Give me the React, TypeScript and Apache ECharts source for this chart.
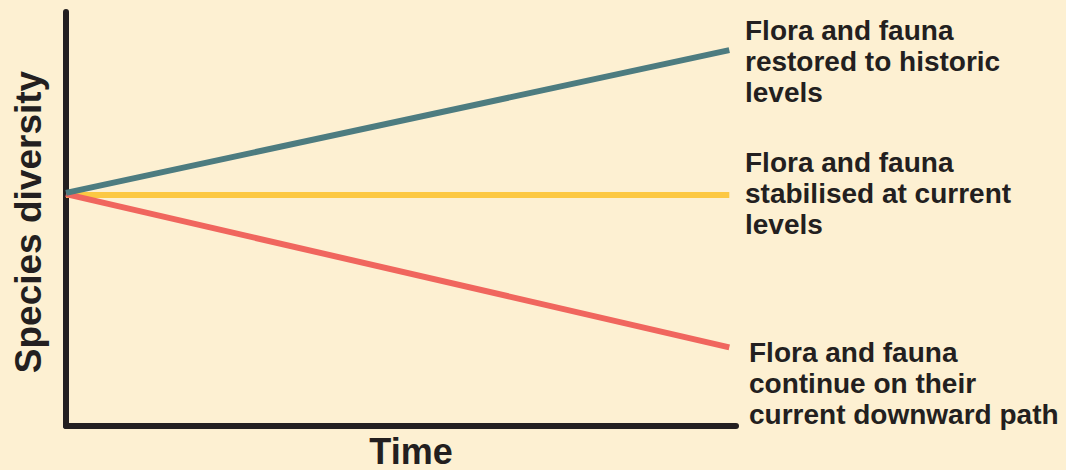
import React, { useEffect, useRef } from "react";
import * as echarts from "echarts";

const timePoints = [0, 99];
const restored = [56.3, 90.8];
const stabilised = [55.8, 55.8];
const declining = [56.0, 19.0];
const labels = [
  "Flora and fauna\nrestored to historic\nlevels",
  "Flora and fauna\nstabilised at current\nlevels",
  "Flora and fauna\ncontinue on their\ncurrent downward path",
];
const colors = ["#4D7C80", "#FCC843", "#F0665E"];

const labelFont = "bold 28px 'Liberation Sans', Arial, sans-serif";
const titleFont = "bold 37px 'Liberation Sans', Arial, sans-serif";

export default function App() {
  const ref = useRef<HTMLDivElement>(null);
  useEffect(() => {
    const chart = echarts.init(ref.current!, null, { renderer: "svg" });
    const mk = (vals: number[]) => timePoints.map((t, i) => [t, vals[i]]);
    chart.setOption({
      animation: false,
      backgroundColor: "#FDF0D2",
      grid: { left: 66, right: 330, top: 12, bottom: 44 },
      xAxis: {
        type: "value",
        min: 0,
        max: 100,
        axisLine: { show: true, onZero: false, lineStyle: { color: "#231F20", width: 6 } },
        axisTick: { show: false },
        axisLabel: { show: false },
        splitLine: { show: false },
      },
      yAxis: {
        type: "value",
        min: 0,
        max: 100,
        axisLine: { show: true, onZero: false, lineStyle: { color: "#231F20", width: 6 } },
        axisTick: { show: false },
        axisLabel: { show: false },
        splitLine: { show: false },
      },
      series: [
        { type: "line", data: mk(stabilised), symbol: "none", lineStyle: { color: colors[1], width: 6 }, z: 2 },
        { type: "line", data: mk(declining), symbol: "none", lineStyle: { color: colors[2], width: 6 }, z: 3 },
        { type: "line", data: mk(restored), symbol: "none", lineStyle: { color: colors[0], width: 6 }, z: 4 },
      ],
      graphic: [
        {
          type: "text",
          left: 745,
          top: 15,
          style: { text: labels[0], font: labelFont, fill: "#231F20", lineHeight: 31 },
        },
        {
          type: "text",
          left: 745,
          top: 147,
          style: { text: labels[1], font: labelFont, fill: "#231F20", lineHeight: 31 },
        },
        {
          type: "text",
          left: 749,
          top: 337,
          style: { text: labels[2], font: labelFont, fill: "#231F20", lineHeight: 31 },
        },
        {
          type: "text",
          x: 411,
          y: 451,
          style: { text: "Time", font: "bold 36px 'Liberation Sans', Arial, sans-serif", fill: "#231F20", align: "center", verticalAlign: "middle" },
        },
        {
          type: "text",
          x: 28,
          y: 222,
          rotation: Math.PI / 2,
          style: { text: "Species diversity", font: titleFont, fill: "#231F20", align: "center", verticalAlign: "middle" },
        },
      ],
    });
    return () => chart.dispose();
  }, []);
  return <div ref={ref} style={{ width: 1066, height: 470, position: "fixed", left: 0, top: 0 }} />;
}
